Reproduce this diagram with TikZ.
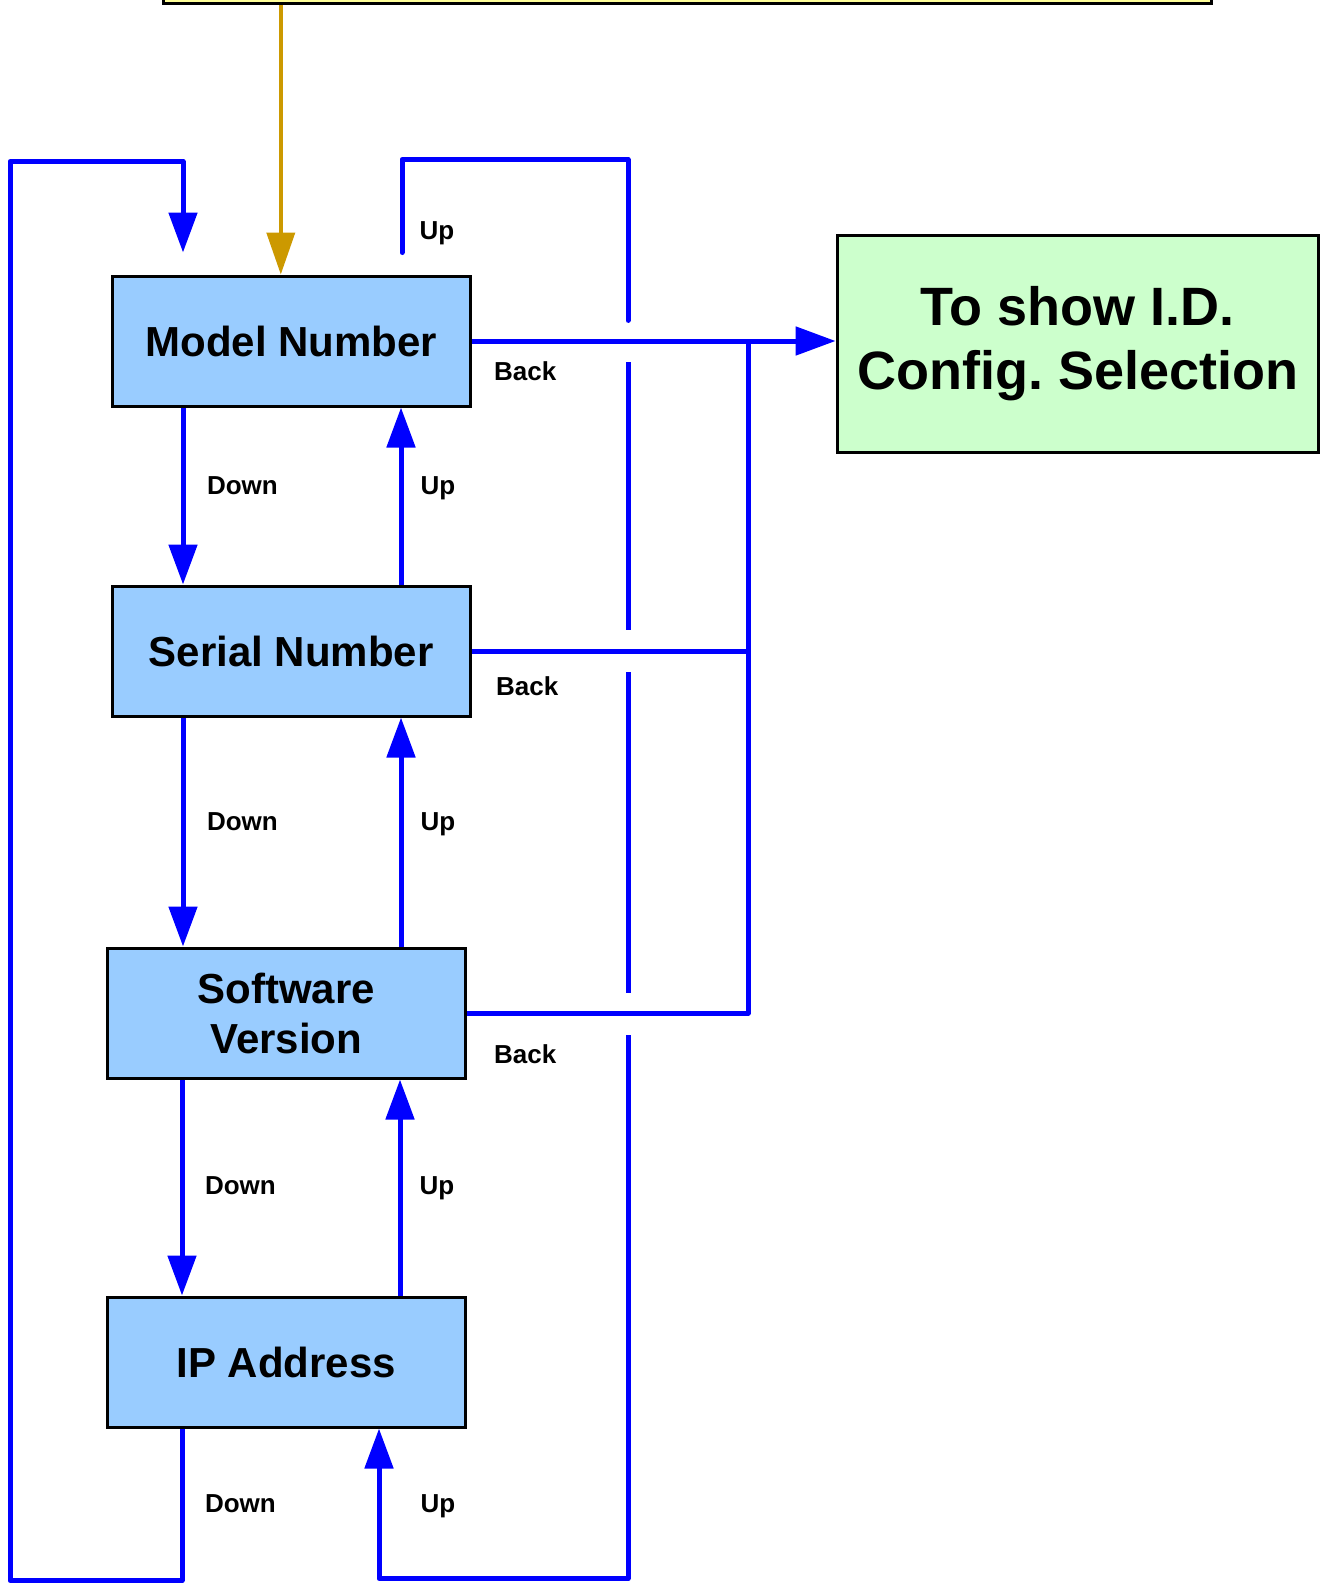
\documentclass[tikz,border=0pt]{standalone}
\usepackage{fontspec}
\setmainfont{Liberation Sans}
\usetikzlibrary{arrows.meta}
\frenchspacing
\definecolor{boxblue}{HTML}{99CCFF}
\definecolor{boxgreen}{HTML}{CCFFCC}
\definecolor{boxyellow}{HTML}{FFFF99}
\definecolor{lineorange}{HTML}{CC9900}
\definecolor{lineblue}{HTML}{0000FF}
\tikzset{
  menubox/.style={draw=black, line width=3pt, fill=boxblue, minimum width=358pt, minimum height=130pt, inner sep=0pt, align=center, font=\fontsize{42}{50}\selectfont\bfseries},
  goalbox/.style={draw=black, line width=3pt, fill=boxgreen, minimum width=481pt, minimum height=217pt, inner sep=0pt, align=center, font=\fontsize{54}{64}\selectfont\bfseries},
  flow/.style={draw=lineblue, line width=5pt, line join=round},
  flowarrow/.style={flow, -{Triangle[length=40pt, width=28pt]}},
  lbl/.style={font=\fontsize{26}{30}\selectfont\bfseries, inner sep=0pt, text height=19pt, text depth=0pt},
}
\begin{document}
\begin{tikzpicture}[x=1pt, y=-1pt]
\useasboundingbox (0,0) rectangle (1320,1583);
% top yellow box (only its lower edge is visible)
\node[draw=black, line width=3.5pt, fill=boxyellow, minimum width=1048pt, minimum height=60pt, inner sep=0pt, anchor=south west] (start) at (161.6,5) {};
% menu boxes
\node[menubox] (model) at (291.3,341) {Model Number};
\node[menubox] (serial) at (291.3,651) {Serial Number};
\node[menubox] (soft) at (286.3,1013) {Software\\Version};
\node[menubox] (ip) at (286.3,1362) {IP Address};
\node[goalbox] (goal) at (1077.6,344) {To show I.D.\\Config. Selection};
% columns
\coordinate (dA) at (183,0);
\coordinate (uA) at (401,0);
\coordinate (dB) at (182,0);
\coordinate (uB) at (400,0);
\coordinate (uC) at (379,0);
\coordinate (bus) at (748,0);
\coordinate (ox) at (280.8,0);
% orange entry arrow
\draw[draw=lineorange, line width=4pt, -{Triangle[length=42pt, width=28pt]}] (start.south -| ox) -- (model.north -| ox);
% down / up between boxes
\draw[flowarrow] (model.south -| dA) -- (serial.north -| dA);
\draw[flowarrow] (serial.north -| uA) -- (model.south -| uA);
\draw[flowarrow] (serial.south -| dA) -- (soft.north -| dA);
\draw[flowarrow] (soft.north -| uA) -- (serial.south -| uA);
\draw[flowarrow] (soft.south -| dB) -- (ip.north -| dB);
\draw[flowarrow] (ip.north -| uB) -- (soft.south -| uB);
% wrap-around down from IP to Model
\coordinate (dend) at (183,252.5);
\draw[flowarrow] (ip.south -| dB) -- (182,1580.6) -| (10,161.6) -| (dend);
% wrap-around up from Model to IP (with gaps)
\coordinate (ustart) at (402,252.5);
\draw[flow, line cap=round] (ustart) -- (402,159.6) -| (628,320.4);
\draw[flow] (628,362.4) -- (628,630.4);
\draw[flow] (628,672.4) -- (628,993);
\draw[flowarrow] (628,1035) |- (379,1578.6) -- (ip.south -| uC);
% back lines
\draw[flowarrow] (model.east) -- (model.east -| goal.west);
\draw[flow] (serial.east) -- (serial.east -| bus);
\draw[flow] (soft.east) -| (model.east -| bus);
% labels
\node[lbl] (ld1) at (242.4,485) {Down};
\node[lbl] (lu1) at (438,485) {Up};
\node[lbl] (ld2) at (242.4,821) {Down};
\node[lbl] (lu2) at (438,821) {Up};
\node[lbl] (ld3) at (240.4,1185) {Down};
\node[lbl] (lu3) at (437,1185) {Up};
\node[lbl] (ld4) at (240.4,1503) {Down};
\node[lbl] (lu4) at (438,1503) {Up};
\node[lbl] (lu0) at (437,230) {Up};
\node[lbl, anchor=west] (lb1) at (494,370.7) {Back};
\node[lbl, anchor=west] (lb2) at (496,686) {Back};
\node[lbl, anchor=west] (lb3) at (494,1054) {Back};
\end{tikzpicture}
\end{document}
